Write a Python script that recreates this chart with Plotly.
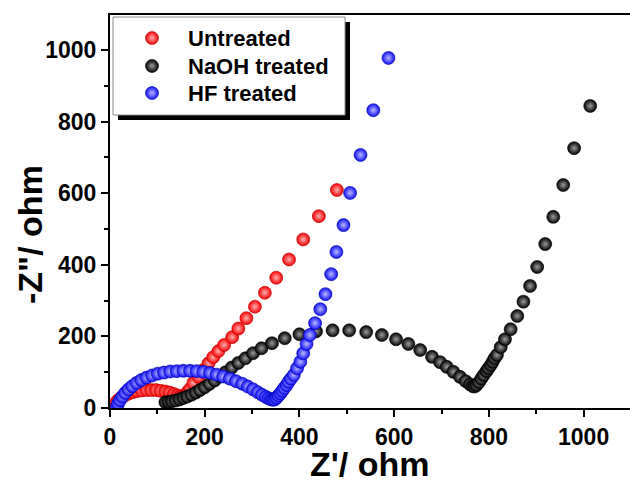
import plotly.graph_objects as go

# ---- data ----
untreated_x = [6, 9, 13, 18, 24, 31, 39, 48, 57, 67, 77, 87, 97, 107, 117, 126, 135, 143, 149, 154, 157,
               160, 164, 169, 176, 187, 197, 208, 218, 229, 241, 258, 271, 288, 306, 327, 351, 378, 408, 441, 479]
untreated_y = [2, 9, 16, 23, 29, 35, 40, 44, 47, 49, 50, 50, 50, 48, 46, 43, 39, 35, 32, 31, 33,
               38, 45, 53, 70, 87, 106, 125, 142, 159, 176, 198, 222, 251, 283, 322, 364, 415, 471, 536, 609]

naoh_x = [117, 124, 131, 139, 147, 155, 163, 172, 181, 190, 200, 210, 221, 232, 244, 257, 271, 286, 302, 320,
          342, 369, 400, 435, 470, 505, 541, 574, 604, 630, 655, 680, 697, 711, 725, 739, 751, 760, 766, 770,
          774, 779, 784, 789, 795, 799, 804, 808, 812, 817, 825, 834, 846, 860, 873, 887, 902, 919, 936, 957,
          980, 1014]
naoh_y = [16, 17, 19, 21, 24, 28, 32, 37, 43, 50, 58, 67, 77, 88, 100, 113, 126, 139, 153, 167,
          181, 195, 206, 214, 217, 217, 212, 204, 192, 179, 162, 143, 128, 115, 101, 87, 75, 66, 61, 60,
          64, 72, 82, 92, 103, 111, 120, 129, 139, 148, 170, 192, 220, 257, 297, 341, 394, 458, 534, 623,
          726, 844]

hf_x = [14, 17, 21, 26, 32, 39, 47, 56, 66, 77, 89, 101, 114, 127, 141, 155, 169, 183, 197, 211, 225, 239,
        253, 266, 279, 291, 302, 312, 321, 329, 335, 340, 344, 348, 352, 356, 360, 364, 368, 373, 377, 382,
        388, 395, 402, 408, 415, 422, 433, 444, 455, 467, 478, 493, 507, 529, 556, 588]
hf_y = [3, 12, 22, 32, 42, 52, 61, 70, 78, 85, 91, 96, 99, 102, 103, 104, 104, 103, 101, 98, 93, 88,
        82, 75, 68, 60, 52, 44, 37, 31, 27, 24, 23, 24, 29, 35, 41, 48, 56, 64, 73, 82,
        92, 111, 129, 153, 179, 204, 237, 276, 318, 374, 436, 511, 601, 707, 832, 978]

series_names = ["Untreated", "NaOH treated", "HF treated"]
x_ticks = [0, 200, 400, 600, 800, 1000]
y_ticks = [0, 200, 400, 600, 800, 1000]

FONT = "Liberation Sans, Arial, sans-serif"

styles = [
    dict(base="#ff0000", hi="#ffb0b0", edge="#b00000"),
    dict(base="#000000", hi="#9a9a9a", edge="#000000"),
    dict(base="#1010ff", hi="#b8b8ff", edge="#0000a0"),
]
series = [(untreated_x, untreated_y), (naoh_x, naoh_y), (hf_x, hf_y)]

W, H = 630, 484
L, R, T, B = 110, 0, 15, 76
pw, ph = W - L - R, H - T - B

def px(xp):
    return (xp - L) / pw

def py(yp):
    return (H - B - yp) / ph

def marker(st):
    return dict(size=13, color=st["base"],
                gradient=dict(type="radial", color=st["hi"]),
                line=dict(width=0.6, color=st["edge"]))

fig = go.Figure()
for name, (xs, ys), st in zip(series_names, series, styles):
    fig.add_trace(go.Scatter(x=xs, y=ys, mode="markers", name=name,
                             marker=marker(st), showlegend=False))

# ---- custom legend (box with drop shadow), keys drawn on a pixel-mapped overlay axis ----
leg_left, leg_top, leg_right, leg_bottom = 113, 17, 345, 115
shadow = 5
key_x = 152
text_x = 186
row_y = [38, 66, 93]

for name, st, ry in zip(series_names, styles, row_y):
    fig.add_trace(go.Scatter(x=[key_x], y=[ry], mode="markers", name=name,
                             marker=marker(st), showlegend=False,
                             xaxis="x2", yaxis="y2", cliponaxis=False, hoverinfo="skip"))

shapes = [
    dict(type="rect", xref="paper", yref="paper",
         x0=px(leg_left + shadow), x1=px(leg_right + shadow),
         y0=py(leg_bottom + shadow), y1=py(leg_top + shadow),
         fillcolor="black", line=dict(width=0), layer="below"),
    dict(type="rect", xref="paper", yref="paper",
         x0=px(leg_left), x1=px(leg_right), y0=py(leg_bottom), y1=py(leg_top),
         fillcolor="white", line=dict(width=1, color="#8a8a8a"), layer="below"),
]

annotations = [
    dict(text=name, xref="paper", yref="paper", x=px(text_x), y=py(ry),
         xanchor="left", yanchor="middle", showarrow=False,
         font=dict(family=FONT, size=22, color="black", weight="bold"))
    for name, ry in zip(series_names, row_y)
]
annotations += [
    dict(text="Z'/ ohm", xref="paper", yref="paper", x=0.5, y=py(464),
         xanchor="center", yanchor="middle", showarrow=False, borderpad=0,
         font=dict(family=FONT, size=34, color="black", weight="bold")),
    dict(text='-Z"/ ohm', xref="paper", yref="paper", x=px(30), y=py(235),
         xanchor="center", yanchor="middle", showarrow=False, textangle=-90, borderpad=0,
         font=dict(family=FONT, size=34, color="black", weight="bold")),
]

axis_common = dict(
    showline=True, linecolor="black", linewidth=2,
    ticks="outside", ticklen=7, tickwidth=2, tickcolor="black",
    showgrid=False, zeroline=False,
    tickfont=dict(family=FONT, size=23, color="black", weight="bold"),
    minor=dict(ticks="outside", ticklen=4, tickwidth=1.5, tickcolor="black", dtick=100),
)

fig.update_layout(
    width=W, height=H,
    margin=dict(l=L, r=R, t=T, b=B),
    paper_bgcolor="white", plot_bgcolor="white",
    xaxis=dict(range=[0, 1098], tickvals=x_ticks, mirror=True, **axis_common),
    yaxis=dict(range=[0, 1098], tickvals=y_ticks, mirror=False, **axis_common),
    xaxis2=dict(overlaying="x", range=[L, W - R], visible=False, fixedrange=True),
    yaxis2=dict(overlaying="y", range=[H - B, T], visible=False, fixedrange=True),
    showlegend=False,
    shapes=shapes,
    annotations=annotations,
)

fig.write_html("out.html")
